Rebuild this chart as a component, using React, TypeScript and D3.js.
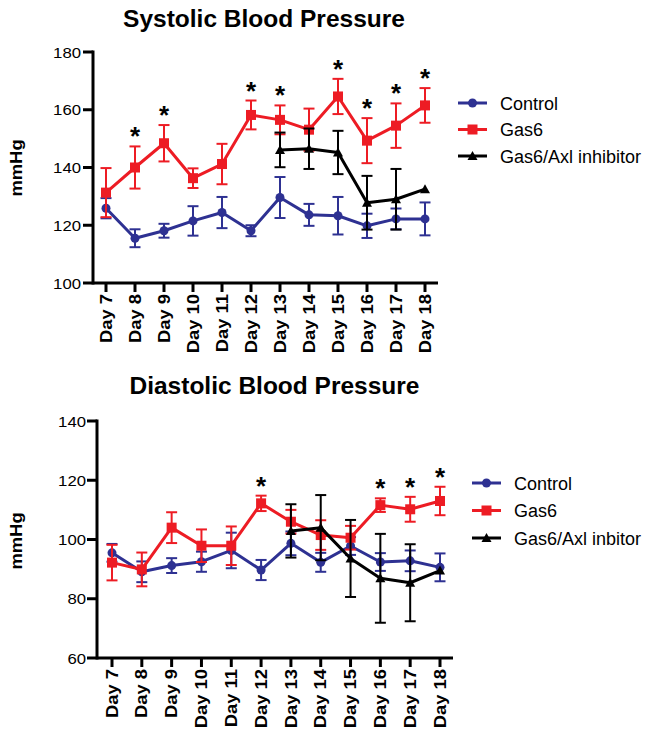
import React from "react";
import * as d3 from "d3";

const days = ["Day 7", "Day 8", "Day 9", "Day 10", "Day 11", "Day 12", "Day 13", "Day 14", "Day 15", "Day 16", "Day 17", "Day 18"];
const seriesNames = ["Control", "Gas6", "Gas6/Axl inhibitor"];
const seriesNamesDia = ["Control", "Gas6", "Gas6/Axl inbitor"];

// systolic
const sysControl = [125.9, 115.5, 118.1, 121.5, 124.4, 118.1, 129.6, 123.6, 123.3, 119.8, 122.2, 122.2];
const sysControlErr = [3.5, 3.1, 2.4, 5.1, 5.4, 1.9, 7.1, 3.8, 6.5, 4.2, 3.6, 5.7];
const sysGas6 = [131.3, 140, 148.4, 136.3, 141.2, 158.2, 156.5, 153.1, 164.6, 149.3, 154.5, 161.5];
const sysGas6Err = [8.5, 7.3, 6.3, 3.4, 7, 5, 5, 7.3, 6.1, 7.8, 7.7, 6];
const sysAxl = [null, null, null, null, null, null, 146.1, 146.5, 145.2, 127.8, 129, 132.5];
const sysAxlErr = [0, 0, 0, 0, 0, 0, 6, 7, 7.5, 9.3, 10.5, 0];
const sysStars = ["Day 8", "Day 9", "Day 12", "Day 13", "Day 15", "Day 16", "Day 17", "Day 18"];

// diastolic
const diaControl = [95.5, 89.1, 91.2, 92.5, 96.3, 89.7, 98.7, 92.3, 97.8, 92.4, 92.8, 90.6];
const diaControlErr = [3, 3.5, 2.5, 3.4, 6, 3.4, 4, 3.2, 3, 3, 3.5, 4.7];
const diaGas6 = [92.2, 89.9, 104, 97.9, 97.9, 112.2, 106, 101.5, 100.6, 111.6, 110.2, 113];
const diaGas6Err = [6, 5.7, 5.2, 5.5, 6.5, 2.6, 4, 5, 4, 2.3, 4.2, 4.8];
const diaAxl = [null, null, null, null, null, null, 102.9, 104, 93.6, 86.9, 85.4, 89.5];
const diaAxlErr = [0, 0, 0, 0, 0, 0, 9, 11, 13, 15, 13, 0];
const diaStars = ["Day 12", "Day 16", "Day 17", "Day 18"];

const BLUE = "#2e3192";
const RED = "#ed1c24";
const BLACK = "#000";
const FONT = "'Liberation Sans', Arial, sans-serif";

const colors = [BLUE, RED, BLACK];

const Marker = ({ kind, x, y, color }) => {
  if (kind === 0) return <circle cx={x} cy={y} r={4.5} fill={color} />;
  if (kind === 1) return <rect x={x - 5} y={y - 5} width={10} height={10} fill={color} />;
  return <path d={`M${x},${y - 5}L${x + 5},${y + 4}L${x - 5},${y + 4}Z`} fill={color} />;
};

const Panel = ({ title, titleX, titleY, series, errs, stars, yDomain, yTop, yBottom, axisX, xFirst, xLast, xEnd, labelRight, legendX, legendY, legendGap, names, mmY }) => {
  const x = d3.scalePoint().domain(days).range([xFirst, xLast]);
  const y = d3.scaleLinear().domain(yDomain).range([yBottom, yTop]);
  const line = d3.line().defined((d) => d[1] != null).x((d) => x(d[0])).y((d) => y(d[1]));

  return (
    <g fontFamily={FONT}>
      <text x={titleX} y={titleY} textAnchor="middle" fontSize={24.5} fontWeight="bold">{title}</text>
      <text transform={`translate(22,${mmY}) rotate(-90) scale(1.15,1)`} textAnchor="middle" fontSize={16} fontWeight="bold">mmHg</text>

      {series.map((vals, si) => {
        const pts = days.map((d, i) => [d, vals[i]]);
        return (
          <g key={si}>
            <path d={line(pts)} fill="none" stroke={colors[si]} strokeWidth={3} strokeLinejoin="round" />
            {pts.map(([d, v], i) => {
              if (v == null) return null;
              const e = errs[si][i];
              const cx = x(d);
              return (
                <g key={d}>
                  {e > 0 && (
                    <g stroke={colors[si]} strokeWidth={2}>
                      <line x1={cx} x2={cx} y1={y(v - e)} y2={y(v + e)} />
                      <line x1={cx - 5.5} x2={cx + 5.5} y1={y(v - e)} y2={y(v - e)} />
                      <line x1={cx - 5.5} x2={cx + 5.5} y1={y(v + e)} y2={y(v + e)} />
                    </g>
                  )}
                  <Marker kind={si} x={cx} y={y(v)} color={colors[si]} />
                </g>
              );
            })}
          </g>
        );
      })}

      {stars.map((d) => {
        const i = days.indexOf(d);
        return (
          <text key={d} x={x(d)} y={y(series[1][i] + errs[1][i]) - 1} textAnchor="middle" fontSize={26} fontWeight="bold">*</text>
        );
      })}

      {/* axes */}
      <line x1={axisX} x2={axisX} y1={yTop - 1.5} y2={yBottom + 1.5} stroke="#000" strokeWidth={3} />
      <line x1={axisX} x2={xEnd} y1={yBottom} y2={yBottom} stroke="#000" strokeWidth={3} />
      {y.ticks(4).map((t) => (
        <g key={t}>
          <line x1={axisX - 10} x2={axisX} y1={y(t)} y2={y(t)} stroke="#000" strokeWidth={3} />
          <text transform={`translate(${labelRight},${y(t) + 5.5}) scale(1.08,1)`} textAnchor="end" fontSize={15.5}>{t}</text>
        </g>
      ))}
      {days.map((d) => (
        <g key={d}>
          <line x1={x(d)} x2={x(d)} y1={yBottom} y2={yBottom + 9} stroke="#000" strokeWidth={3} />
          <text transform={`translate(${x(d)},${yBottom + 11}) rotate(-90) scale(1.15,1)`} textAnchor="end" dy="0.35em" fontSize={16} fontWeight="bold">{d}</text>
        </g>
      ))}

      {/* legend */}
      {names.map((n, i) => {
        const ly = legendY + i * legendGap;
        return (
          <g key={n}>
            <line x1={legendX} x2={legendX + 29} y1={ly} y2={ly} stroke={colors[i]} strokeWidth={3} />
            <Marker kind={i} x={legendX + 14.5} y={ly} color={colors[i]} />
            <text x={legendX + 42} y={ly + 6.5} fontSize={18}>{n}</text>
          </g>
        );
      })}
    </g>
  );
};

export default function App() {
  return (
    <svg width={663} height={730} style={{ position: "absolute", left: 0, top: 0, background: "#fff" }}>
      <Panel
        title="Systolic Blood Pressure"
        titleX={264}
        titleY={27}
        series={[sysControl, sysGas6, sysAxl]}
        errs={[sysControlErr, sysGas6Err, sysAxlErr]}
        stars={sysStars}
        yDomain={[100, 180]}
        yTop={52}
        yBottom={283}
        axisX={93}
        xFirst={106}
        xLast={425}
        xEnd={438}
        labelRight={81}
        legendX={458}
        legendY={103}
        legendGap={26.5}
        names={seriesNames}
        mmY={168}
      />
      <Panel
        title="Diastolic Blood Pressure"
        titleX={274.5}
        titleY={394}
        series={[diaControl, diaGas6, diaAxl]}
        errs={[diaControlErr, diaGas6Err, diaAxlErr]}
        stars={diaStars}
        yDomain={[60, 140]}
        yTop={421}
        yBottom={658}
        axisX={97}
        xFirst={112}
        xLast={440}
        xEnd={453}
        labelRight={86}
        legendX={472}
        legendY={483}
        legendGap={27.5}
        names={seriesNamesDia}
        mmY={541}
      />
    </svg>
  );
}
